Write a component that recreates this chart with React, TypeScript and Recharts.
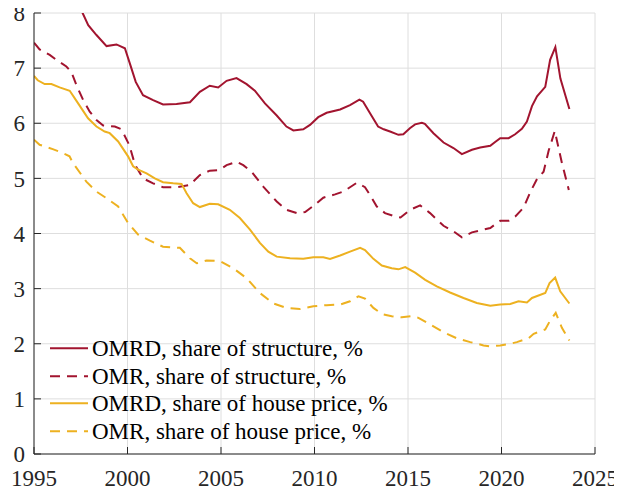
import React from 'react';
import { LineChart, Line, XAxis, YAxis, CartesianGrid, Legend } from 'recharts';

const RED = '#A2142F';
const YELLOW = '#EDB120';
const AXIS = '#262626';
const FONT = 'Liberation Serif';
const DASH = '10 7';

const xTicks = [1995, 2000, 2005, 2010, 2015, 2020, 2025];
const yTicks = [0, 1, 2, 3, 4, 5, 6, 7, 8];

const seriesNames = [
  'OMRD, share of structure, %',
  'OMR, share of structure, %',
  'OMRD, share of house price, %',
  'OMR, share of house price, %',
];

// OMRD, share of structure (solid red)
const omrdStructureYears = [1995.0, 1996.0, 1997.0, 1997.6, 1997.9, 1998.34, 1998.88, 1999.41, 1999.86, 2000.12, 2000.44, 2000.83, 2001.37, 2001.9, 2002.62, 2003.34, 2003.87, 2004.4, 2004.85, 2005.3, 2005.83, 2006.37, 2006.81, 2007.35, 2007.98, 2008.5, 2008.87, 2009.4, 2009.76, 2010.2, 2010.65, 2011.37, 2011.9, 2012.4, 2012.6, 2012.97, 2013.4, 2013.7, 2014.04, 2014.49, 2014.75, 2015.1, 2015.38, 2015.74, 2015.9, 2016.36, 2016.9, 2017.43, 2017.88, 2018.42, 2018.86, 2019.4, 2019.66, 2019.93, 2020.38, 2020.73, 2021.09, 2021.36, 2021.63, 2021.9, 2022.34, 2022.6, 2022.88, 2023.15, 2023.63];
const omrdStructureValues = [9.0, 8.7, 8.4, 8.0, 7.78, 7.6, 7.4, 7.43, 7.36, 7.09, 6.75, 6.51, 6.42, 6.34, 6.35, 6.38, 6.57, 6.68, 6.65, 6.77, 6.82, 6.71, 6.59, 6.36, 6.14, 5.94, 5.87, 5.89, 5.97, 6.11, 6.19, 6.25, 6.33, 6.43, 6.39, 6.18, 5.94, 5.89, 5.85, 5.79, 5.8, 5.91, 5.98, 6.01, 5.99, 5.82, 5.65, 5.55, 5.44, 5.52, 5.56, 5.59, 5.66, 5.73, 5.73, 5.8, 5.9, 6.03, 6.31, 6.49, 6.66, 7.15, 7.38, 6.81, 6.26];

// OMR, share of structure (dashed red)
const omrStructureYears = [1995.0, 1995.3, 1995.84, 1996.2, 1996.73, 1997.0, 1997.27, 1997.63, 1997.98, 1998.34, 1998.7, 1999.32, 1999.68, 2000.1, 2000.4, 2000.83, 2001.37, 2001.9, 2002.62, 2003.33, 2003.87, 2004.4, 2004.9, 2005.3, 2005.84, 2006.19, 2006.64, 2007.26, 2007.98, 2008.5, 2009.05, 2009.5, 2009.94, 2010.47, 2011.1, 2011.54, 2012.26, 2012.7, 2012.97, 2013.33, 2013.77, 2014.31, 2014.6, 2015.11, 2015.65, 2016.18, 2016.9, 2017.43, 2017.88, 2018.42, 2019.04, 2019.4, 2019.93, 2020.38, 2020.74, 2021.18, 2021.54, 2021.9, 2022.25, 2022.52, 2022.85, 2023.23, 2023.6];
const omrStructureValues = [7.46, 7.34, 7.24, 7.15, 7.03, 6.93, 6.69, 6.42, 6.21, 6.06, 5.96, 5.94, 5.89, 5.6, 5.25, 5.0, 4.91, 4.84, 4.84, 4.88, 5.06, 5.14, 5.15, 5.24, 5.3, 5.24, 5.12, 4.85, 4.58, 4.43, 4.37, 4.39, 4.5, 4.65, 4.71, 4.76, 4.92, 4.84, 4.7, 4.49, 4.37, 4.31, 4.29, 4.43, 4.51, 4.37, 4.14, 4.04, 3.93, 4.02, 4.07, 4.1, 4.23, 4.23, 4.31, 4.47, 4.75, 4.99, 5.12, 5.5, 5.86, 5.28, 4.79];

// OMRD, share of house price (solid yellow)
const omrdHouseYears = [1995.0, 1995.2, 1995.57, 1995.93, 1996.37, 1996.91, 1997.36, 1997.89, 1998.34, 1998.78, 1999.05, 1999.5, 2000.03, 2000.3, 2000.57, 2001.02, 2001.46, 2001.9, 2002.44, 2002.89, 2003.16, 2003.51, 2003.87, 2004.4, 2004.85, 2005.47, 2006.01, 2006.55, 2007.08, 2007.53, 2007.98, 2008.69, 2009.4, 2009.94, 2010.47, 2010.83, 2011.37, 2011.9, 2012.44, 2012.7, 2013.15, 2013.6, 2014.13, 2014.49, 2014.85, 2015.38, 2015.92, 2016.54, 2017.25, 2017.97, 2018.68, 2019.4, 2019.93, 2020.47, 2020.91, 2021.36, 2021.63, 2022.34, 2022.57, 2022.87, 2023.14, 2023.63];
const omrdHouseValues = [6.86, 6.78, 6.71, 6.71, 6.65, 6.59, 6.36, 6.09, 5.94, 5.85, 5.82, 5.67, 5.4, 5.22, 5.16, 5.09, 5.0, 4.93, 4.91, 4.9, 4.73, 4.55, 4.48, 4.54, 4.53, 4.43, 4.28, 4.07, 3.83, 3.67, 3.58, 3.55, 3.54, 3.57, 3.57, 3.54, 3.6, 3.67, 3.74, 3.7, 3.54, 3.42, 3.37, 3.35, 3.39, 3.29, 3.16, 3.04, 2.93, 2.83, 2.74, 2.69, 2.71, 2.72, 2.77, 2.75, 2.83, 2.92, 3.1, 3.2, 2.95, 2.73];

// OMR, share of house price (dashed yellow)
const omrHouseYears = [1995.0, 1995.3, 1996.0, 1996.55, 1996.9, 1997.08, 1997.8, 1998.34, 1998.88, 1999.5, 2000.03, 2000.57, 2001.2, 2001.9, 2002.8, 2003.34, 2003.7, 2004.23, 2004.94, 2005.65, 2006.37, 2007.08, 2007.8, 2008.51, 2009.22, 2009.94, 2010.65, 2011.37, 2011.9, 2012.35, 2012.7, 2013.15, 2013.6, 2014.13, 2014.67, 2015.2, 2015.56, 2016.18, 2016.9, 2017.6, 2018.33, 2019.04, 2019.4, 2019.93, 2020.47, 2020.82, 2021.45, 2021.72, 2022.34, 2022.6, 2022.9, 2023.23, 2023.63];
const omrHouseValues = [5.7, 5.61, 5.53, 5.46, 5.4, 5.28, 4.94, 4.76, 4.64, 4.49, 4.19, 3.98, 3.87, 3.76, 3.74, 3.55, 3.46, 3.51, 3.5, 3.37, 3.19, 2.92, 2.73, 2.65, 2.63, 2.68, 2.7, 2.71, 2.77, 2.86, 2.82, 2.65, 2.54, 2.5, 2.48, 2.5, 2.47, 2.35, 2.21, 2.1, 2.03, 1.97, 1.95, 1.97, 2.0, 2.03, 2.1, 2.18, 2.26, 2.42, 2.56, 2.29, 2.06];

const toPoints = (xs: number[], ys: number[]) => xs.map((x, i) => ({ year: x, value: ys[i] }));

const series = [
  { name: seriesNames[0], color: RED, dashed: false, data: toPoints(omrdStructureYears, omrdStructureValues) },
  { name: seriesNames[1], color: RED, dashed: true, data: toPoints(omrStructureYears, omrStructureValues) },
  { name: seriesNames[2], color: YELLOW, dashed: false, data: toPoints(omrdHouseYears, omrdHouseValues) },
  { name: seriesNames[3], color: YELLOW, dashed: true, data: toPoints(omrHouseYears, omrHouseValues) },
];

const renderLegend = () => (
  <div style={{ fontFamily: FONT, fontSize: 23, color: '#000', lineHeight: '27.5px' }}>
    {series.map((s) => (
      <div key={s.name} style={{ display: 'flex', alignItems: 'flex-start', height: 27.5, whiteSpace: 'nowrap' }}>
        <svg width={42} height={27.5} style={{ display: 'block', flex: 'none' }}>
          <line x1={0} x2={38} y1={13.2} y2={13.2} stroke={s.color} strokeWidth={2} strokeDasharray={s.dashed ? DASH : undefined} />
        </svg>
        <span style={{ fontFamily: FONT }}>{s.name}</span>
      </div>
    ))}
  </div>
);

const tickStyle = { fontFamily: FONT, fontSize: 23, fill: AXIS };

export default function App() {
  return (
    <div style={{ marginTop: -8, marginLeft: -8, fontFamily: FONT }}>
      <LineChart width={622} height={493} margin={{ top: 13, right: 27, left: 0, bottom: 8 }} style={{ fontFamily: FONT }}>
        <CartesianGrid stroke="#dedede" strokeWidth={1} horizontalValues={yTicks} verticalValues={xTicks} />
        <XAxis
          dataKey="year"
          type="number"
          domain={[1995, 2025]}
          ticks={xTicks}
          allowDataOverflow
          height={31}
          stroke={AXIS}
          tickSize={-7}
          tickMargin={23}
          tick={tickStyle}
          interval={0}
        />
        <XAxis
          xAxisId="top"
          orientation="top"
          dataKey="year"
          type="number"
          domain={[1995, 2025]}
          ticks={xTicks}
          allowDataOverflow
          height={0}
          stroke={AXIS}
          tickSize={-7}
          tick={false}
          interval={0}
        />
        <YAxis
          type="number"
          domain={[0, 8]}
          ticks={yTicks}
          allowDataOverflow
          width={34}
          stroke={AXIS}
          tickSize={-7}
          tickMargin={16}
          tick={tickStyle}
          interval={0}
        />
        <YAxis
          yAxisId="right"
          orientation="right"
          type="number"
          domain={[0, 8]}
          ticks={yTicks}
          allowDataOverflow
          width={0}
          stroke={AXIS}
          tickSize={-7}
          tick={false}
          interval={0}
        />
        <Legend
          layout="vertical"
          align="center"
          verticalAlign="middle"
          content={renderLegend}
          wrapperStyle={{ position: 'absolute', left: 50, top: 335, width: 'auto', height: 'auto' }}
        />
        {series.map((s) => (
          <Line
            key={s.name}
            data={s.data}
            dataKey="value"
            name={s.name}
            type="linear"
            stroke={s.color}
            strokeWidth={2}
            strokeDasharray={s.dashed ? DASH : undefined}
            dot={false}
            activeDot={false}
            isAnimationActive={false}
          />
        ))}
      </LineChart>
    </div>
  );
}
